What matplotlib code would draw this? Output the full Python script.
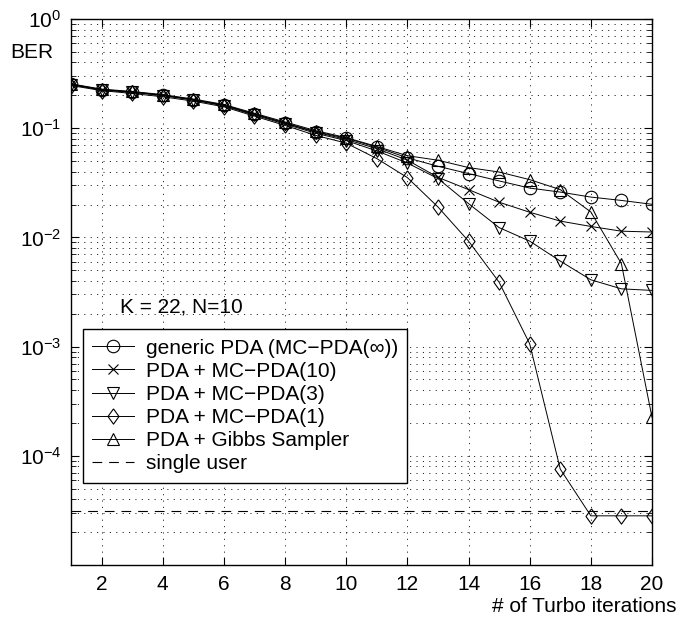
import matplotlib
matplotlib.use("Agg")
import matplotlib.pyplot as plt
import numpy as np
from matplotlib.ticker import FixedLocator, LogLocator, NullFormatter

plt.rcParams['font.family'] = ['Liberation Sans', 'DejaVu Sans']
plt.rcParams['mathtext.fontset'] = 'custom'
plt.rcParams['mathtext.rm'] = 'Liberation Sans'
plt.rcParams['mathtext.it'] = 'Liberation Sans:italic'
plt.rcParams['mathtext.bf'] = 'Liberation Sans:bold'
plt.rcParams['lines.scale_dashes'] = False

iterations = list(range(1, 21))
generic_pda = [0.253, 0.226, 0.215, 0.201, 0.183, 0.163, 0.135, 0.112, 0.093, 0.081,
               0.067, 0.0535, 0.0448, 0.0384, 0.0329, 0.0283, 0.0260, 0.0234, 0.0218, 0.0201]
mc_pda10 = [0.252, 0.225, 0.214, 0.200, 0.182, 0.162, 0.134, 0.111, 0.092, 0.079,
            0.065, 0.051, 0.0355, 0.0274, 0.0210, 0.0170, 0.0141, 0.0126, 0.0114, 0.0112]
mc_pda3 = [0.250, 0.224, 0.213, 0.199, 0.181, 0.160, 0.132, 0.109, 0.090, 0.077,
           0.062, 0.048, 0.0346, 0.0204, 0.0123, 0.00925, 0.00607, 0.00409, 0.00338, 0.00327]
mc_pda1 = [0.246, 0.221, 0.208, 0.194, 0.177, 0.157, 0.129, 0.106, 0.086, 0.073,
           0.0527, 0.0353, 0.019, 0.00925, 0.00389, 0.00106, 7.55e-5, 2.82e-5, 2.82e-5, 2.82e-5]
gibbs = [0.255, 0.228, 0.217, 0.203, 0.185, 0.165, 0.137, 0.114, 0.095, 0.082,
         0.068, 0.056, 0.0509, 0.0436, 0.0397, 0.0338, 0.0274, 0.0171, 0.00574, 2.25e-4]
single_user = 3.13e-5

labels = ['generic PDA (MC\u2212PDA(\u221e))', 'PDA + MC\u2212PDA(10)', 'PDA + MC\u2212PDA(3)',
          'PDA + MC\u2212PDA(1)', 'PDA + Gibbs Sampler', 'single user']
xticks = [2, 4, 6, 8, 10, 12, 14, 16, 18, 20]
yticks = [1e0, 1e-1, 1e-2, 1e-3, 1e-4]
ytick_labels = [r'$\mathregular{10^{0}}$', r'$\mathregular{10^{-1}}$', r'$\mathregular{10^{-2}}$',
                r'$\mathregular{10^{-3}}$', r'$\mathregular{10^{-4}}$']

FS = 15

fig = plt.figure(figsize=(6.78, 6.19), dpi=100)
ax = fig.add_axes([71 / 678, 1 - 565 / 619, 581 / 678, 546 / 619])

diamond = [(0, 1), (0.72, 0), (0, -1), (-0.72, 0), (0, 1)]
lw = 0.7
kw = dict(color='black', lw=lw, mfc='none', mec='black', mew=0.8)
ax.plot(iterations, generic_pda, marker='o', ms=9, label=labels[0], **kw)
ax.plot(iterations, mc_pda10, marker='x', ms=7, label=labels[1], **kw)
ax.plot(iterations, mc_pda3, marker='v', ms=9, label=labels[2], **kw)
ax.plot(iterations, mc_pda1, marker=diamond, ms=11, label=labels[3], **kw)
ax.plot(iterations, gibbs, marker='^', ms=9, label=labels[4], **kw)
ax.axhline(single_user, color='black', lw=0.8, ls=(0, (7, 5)), label=labels[5])

ax.set_yscale('log')
ax.set_xlim(1, 20)
ax.set_ylim(1e-5, 1)
ax.xaxis.set_major_locator(FixedLocator(xticks))
ax.set_xticklabels([str(t) for t in xticks])
ax.yaxis.set_major_locator(FixedLocator(yticks))
ax.set_yticklabels(ytick_labels)
ax.yaxis.set_minor_locator(LogLocator(base=10, subs=np.arange(2, 10)))
ax.yaxis.set_minor_formatter(NullFormatter())

ax.tick_params(axis='both', which='major', direction='in', length=6, width=0.8,
               top=True, right=True, labelsize=FS, pad=7)
ax.tick_params(axis='y', which='minor', direction='in', length=3.5, width=0.6,
               left=True, right=True)
for s in ax.spines.values():
    s.set_linewidth(1.0)

gkw = dict(color='black', lw=0.6, ls=(0, (0.8, 3.8)))
ax.grid(True, axis='x', which='major', **gkw)
ax.grid(True, axis='y', which='both', **gkw)
ax.set_axisbelow(True)

ax.text(2.6, 0.00229, 'K = 22, N=10', fontsize=FS, ha='left', va='center')

leg = ax.legend(loc='upper left', bbox_to_anchor=(0.0207, 0.432), fontsize=FS,
                frameon=True, fancybox=False, framealpha=1, edgecolor='black',
                handlelength=2.0, handletextpad=0.55, labelspacing=0.2,
                borderpad=0.45, borderaxespad=0)
leg.get_frame().set_linewidth(1.0)

fig.text(10 / 678, 1 - 53 / 619, 'BER', fontsize=FS, ha='left', va='center')
fig.text(677 / 678, 1 - 607 / 619, '# of Turbo iterations', fontsize=FS, ha='right', va='center')

fig.savefig('out.png', dpi=100)
